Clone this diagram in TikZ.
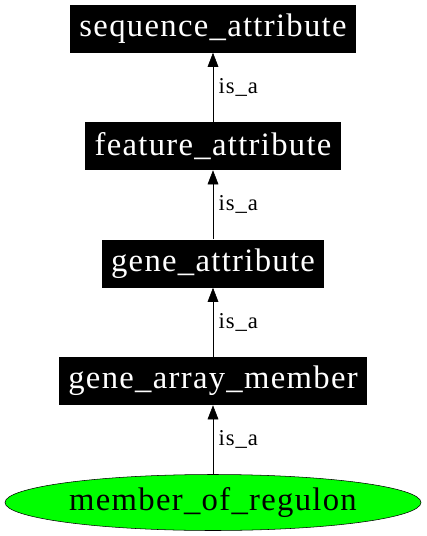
\documentclass[tikz,border=0pt]{standalone}
\usepackage{fontspec}
\setmainfont{Liberation Serif}[LetterSpace=4]
\usetikzlibrary{arrows.meta,shapes.geometric}

\tikzset{
  termbox/.style={fill=black, text=white, font=\fontsize{24.5}{28}\selectfont,
    inner xsep=7pt, minimum height=36pt},
  leafterm/.style={ellipse, draw=black, fill=green, font=\fontsize{24.5}{28}\selectfont,
    minimum width=312pt, minimum height=42pt, inner sep=0pt},
  isa/.style={draw, -{Triangle[length=10.5pt,width=8pt]}},
  isalabel/.style={font=\fontsize{17}{20}\selectfont, right, inner sep=4pt}
}

\begin{document}
\begin{tikzpicture}[x=0.75pt,y=-0.75pt]
\useasboundingbox (0,0) rectangle (427,536);

\node[termbox] (seqattr) at (213,28.5) {sequence\_attribute};
\node[termbox] (featattr) at (213,146) {feature\_attribute};
\node[termbox] (geneattr) at (213,263.5) {gene\_attribute};
\node[termbox] (genearray) at (213,381) {gene\_array\_member};
\node[leafterm] (regulon) at (213,502.5) {member\_of\_regulon};

\draw[isa] (featattr) -- node[isalabel] {is\_a} (seqattr);
\draw[isa] (geneattr) -- node[isalabel] {is\_a} (featattr);
\draw[isa] (genearray) -- node[isalabel] {is\_a} (geneattr);
\draw[isa] (regulon) -- node[isalabel] {is\_a} (genearray);
\end{tikzpicture}
\end{document}
